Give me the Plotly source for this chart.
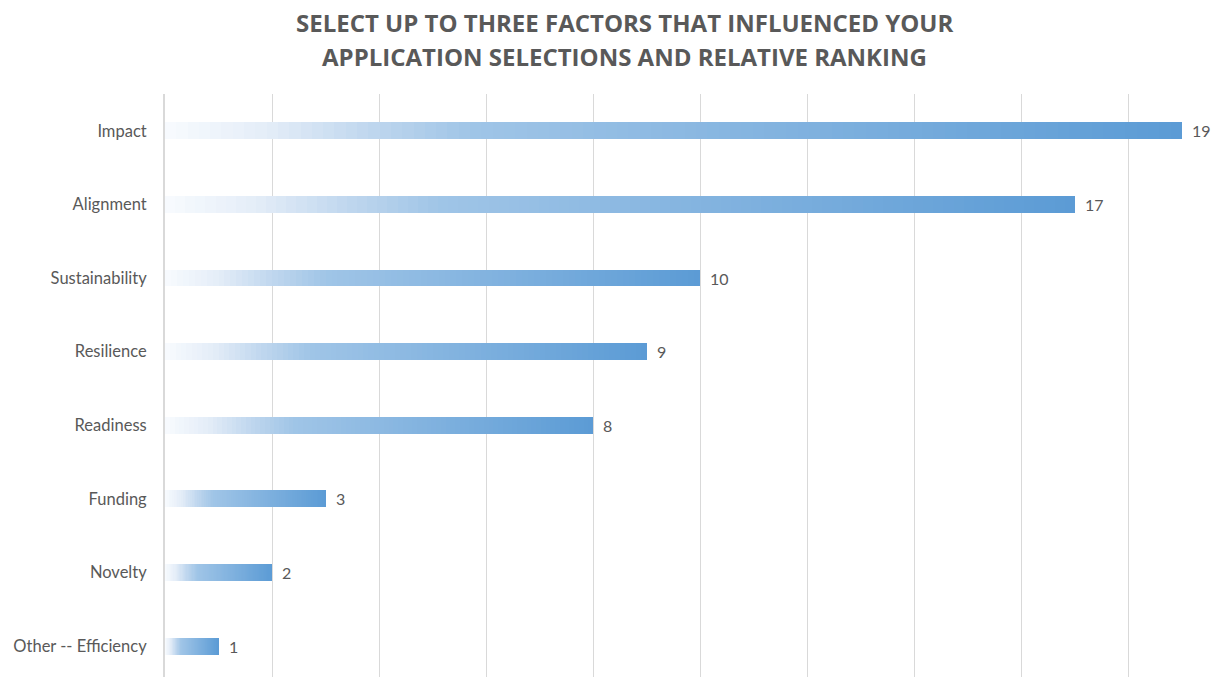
import plotly.graph_objects as go

# Survey results: factors influencing application selections
categories = ["Impact", "Alignment", "Sustainability", "Resilience",
              "Readiness", "Funding", "Novelty", "Other -- Efficiency"]
counts = [19, 17, 10, 9, 8, 3, 2, 1]

title_lines = ["SELECT UP TO THREE FACTORS THAT INFLUENCED YOUR",
               "APPLICATION SELECTIONS AND RELATIVE RANKING"]

# Gradient stops along each bar (fraction of bar length -> RGB)
grad_stops = [(0.0, (248, 251, 254)), (0.1, (228, 237, 248)),
              (0.2, (192, 215, 238)), (0.3, (160, 197, 231)),
              (1.0, (91, 155, 213))]

TEXT = "#595959"
GRID = "#d9d9d9"
N_STEPS = 90


def grad_color(t):
    for (t0, c0), (t1, c1) in zip(grad_stops[:-1], grad_stops[1:]):
        if t <= t1:
            f = (t - t0) / (t1 - t0) if t1 > t0 else 0
            r, g, b = (round(a + (b_ - a) * f) for a, b_ in zip(c0, c1))
            return f"rgba({r},{g},{b},0.999)"
    r, g, b = grad_stops[-1][1]
    return f"rgba({r},{g},{b},0.999)"


fig = go.Figure()

# Each bar is painted as nested overlapping bars from base 0: the full-length
# darkest layer first, then progressively shorter and lighter layers on top,
# giving a smooth left-to-right gradient relative to each bar's length.
for k in range(N_STEPS):
    frac = (N_STEPS - k) / N_STEPS
    fig.add_trace(go.Bar(
        y=categories,
        x=[v * frac for v in counts],
        orientation="h",
        width=0.23,
        marker=dict(color=grad_color(frac - 0.5 / N_STEPS), line=dict(width=0)),
        hoverinfo="skip" if k else "x+y",
        showlegend=False,
    ))

# Value labels just past the end of each bar
for cat, v in zip(categories, counts):
    fig.add_annotation(x=v, y=cat, text=str(v), showarrow=False,
                       xanchor="left", yanchor="middle", xshift=8,
                       font=dict(family="Lato, Open Sans, sans-serif", size=16, color=TEXT))

# Two-line title
for yv, line in zip([1.1218, 1.0635], title_lines):
    fig.add_annotation(x=0.4385, y=yv, xref="paper", yref="paper", text=line,
                       showarrow=False, xanchor="center", yanchor="middle",
                       font=dict(family="Open Sans, sans-serif", size=24,
                                 color=TEXT, weight="bold"))

fig.update_layout(
    width=1225, height=677,
    margin=dict(l=165, r=11, t=94, b=0),
    barmode="overlay",
    bargap=0, bargroupgap=0,
    paper_bgcolor="white",
    plot_bgcolor="white",
    xaxis=dict(range=[0, 19.6], dtick=2, showticklabels=False,
               showgrid=True, gridcolor=GRID, gridwidth=1,
               zeroline=False, showline=False, fixedrange=True),
    yaxis=dict(categoryorder="array", categoryarray=categories,
               range=[7.42, -0.5], showgrid=False, zeroline=False,
               showline=True, linecolor=GRID, linewidth=2,
               ticks="", ticklabelstandoff=13,
               tickfont=dict(family="Lato, Open Sans, sans-serif", size=16.5, color=TEXT)),
)

fig.write_html("out.html")
